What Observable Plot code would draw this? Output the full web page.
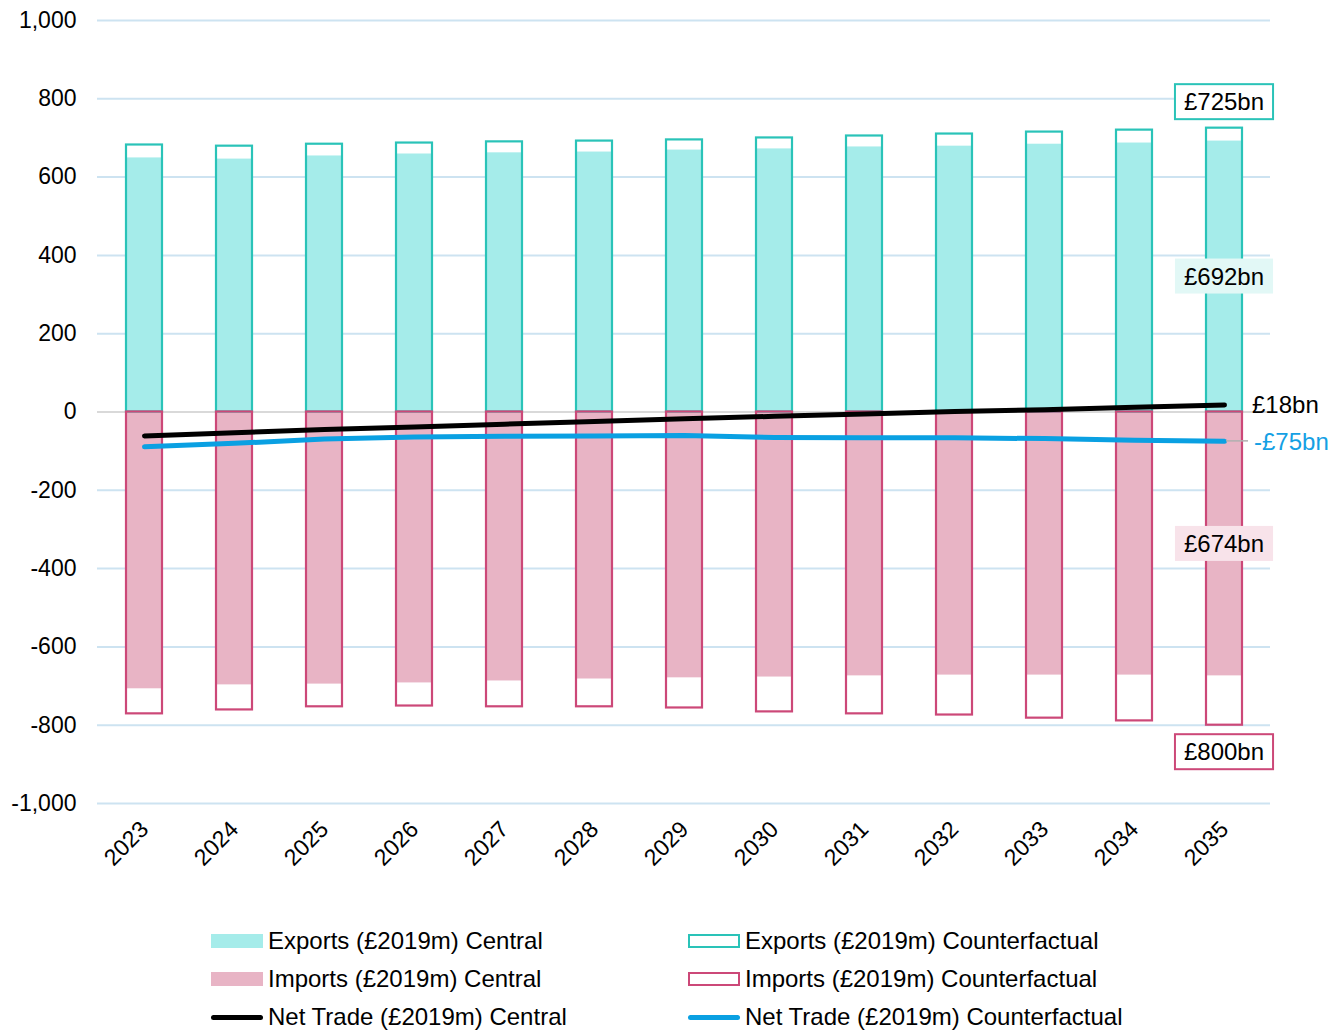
<!DOCTYPE html>
<html>
<head>
<meta charset="utf-8">
<script src="https://cdn.jsdelivr.net/npm/d3@7"></script>
<script src="https://cdn.jsdelivr.net/npm/@observablehq/plot@0.6"></script>
<style>
  body { margin: 0; background: #fff; font-family: "Liberation Sans", Arial, sans-serif; }
  #chart svg { display: block; }
  .legend { position: relative; height: 132px; font-size: 24px; color: #000; }
  .item { position: absolute; display: flex; align-items: center; white-space: nowrap; }
  .sw { width: 52px; height: 14px; box-sizing: border-box; margin-right: 5px; }
  .ln { width: 52px; height: 5px; border-radius: 3px; margin-right: 5px; }
</style>
</head>
<body>
<div id="chart"></div>
<div class="legend" id="legend"></div>
<script>
const years = [2023, 2024, 2025, 2026, 2027, 2028, 2029, 2030, 2031, 2032, 2033, 2034, 2035];
const exportsCentral = [649, 646, 654, 659, 662, 664, 669, 672, 677, 679, 684, 687, 692];
const exportsCounterfactual = [682, 679, 684, 687, 690, 692, 695, 700, 705, 710, 715, 720, 725];
const importsCentral = [-707, -697, -695, -692, -687, -682, -679, -677, -674, -672, -672, -672, -674];
const importsCounterfactual = [-771, -761, -753, -751, -753, -753, -756, -766, -771, -774, -782, -789, -800];
const netCentral = [-61, -53, -45, -38, -31, -24, -17, -11, -5, 1, 6, 12, 18];
const netCounterfactual = [-89, -80, -69, -64, -62, -61, -60, -65, -66, -66, -68, -72, -75];
const yTicks = [-1000, -800, -600, -400, -200, 0, 200, 400, 600, 800, 1000];
const seriesNames = [
  "Exports (£2019m) Central", "Exports (£2019m) Counterfactual",
  "Imports (£2019m) Central", "Imports (£2019m) Counterfactual",
  "Net Trade (£2019m) Central", "Net Trade (£2019m) Counterfactual"
];
const endLabels = [
  {text: "£725bn", value: 725, kind: "boxTop"},
  {text: "£692bn", value: 692 / 2, kind: "fillCyan"},
  {text: "£674bn", value: -674 / 2, kind: "fillPink"},
  {text: "£800bn", value: -800, kind: "boxBottom"}
];
const lineLabels = [
  {text: "£18bn", value: 18, color: "#000000", leader: false},
  {text: "-£75bn", value: -75, color: "#14a0e4", leader: true}
];

const C = {
  expFill: "#a5ecea", expStroke: "#2ac3b8",
  impFill: "#e8b4c5", impStroke: "#cc4878",
  net: "#000000", netCf: "#0aa0e2",
  grid: "#cde3f1", zero: "#d9d9d9"
};

const rows = years.map((y, i) => ({
  year: y,
  expC: exportsCentral[i], expCf: exportsCounterfactual[i],
  impC: importsCentral[i], impCf: importsCounterfactual[i],
  net: netCentral[i], netCf: netCounterfactual[i]
}));
const lastYear = years[years.length - 1];
const fmt = d => d3.format(",")(d).replace("\u2212", "-");

const ctx = document.createElement("canvas").getContext("2d");
ctx.font = "24px 'Liberation Sans'";

function labelsMark(index, scales) {
  const g = d3.create("svg:g").attr("font-family", "'Liberation Sans', Arial, sans-serif");
  const cx = scales.x(lastYear) + scales.x.bandwidth() / 2;
  for (const d of endLabels) {
    const w = ctx.measureText(d.text).width + 18, h = 35;
    let cy = scales.y(d.value);
    if (d.kind === "boxTop") cy -= 26;
    if (d.kind === "boxBottom") cy += 27;
    const fill = d.kind === "fillCyan" ? "#e2f8f6" : d.kind === "fillPink" ? "#f8e3ea" : "#ffffff";
    const stroke = d.kind === "boxTop" ? C.expStroke : d.kind === "boxBottom" ? C.impStroke : "none";
    g.append("rect").attr("x", cx - w / 2).attr("y", cy - h / 2).attr("width", w).attr("height", h)
      .attr("fill", fill).attr("stroke", stroke).attr("stroke-width", 2);
    g.append("text").attr("x", cx).attr("y", cy).attr("text-anchor", "middle").attr("dy", "0.36em")
      .attr("font-size", 24).attr("fill", "#000").text(d.text);
  }
  for (const d of lineLabels) {
    const y = scales.y(d.value);
    if (d.leader) {
      g.append("line").attr("x1", cx + 2).attr("x2", cx + 24).attr("y1", y).attr("y2", y)
        .attr("stroke", "#b0b0b0").attr("stroke-width", 1.5);
    }
    g.append("text").attr("x", cx + (d.leader ? 30 : 28)).attr("y", y).attr("dy", "0.36em")
      .attr("text-anchor", "start")
      .attr("font-size", 24).attr("fill", d.color).text(d.text);
  }
  return g.node();
}

const inset = 27;
const chart = Plot.plot({
  width: 1343,
  height: 900,
  marginTop: 20,
  marginBottom: 97,
  marginLeft: 97,
  marginRight: 73,
  style: {fontFamily: "'Liberation Sans', Arial, sans-serif", fontSize: "23px", color: "#000", background: "#fff"},
  x: {type: "band", domain: years, padding: 0, label: null, tickSize: 0, tickRotate: -45, tickPadding: 22, tickFormat: d => String(d)},
  y: {domain: [-1000, 1000], ticks: yTicks, label: null, tickSize: 0, tickPadding: 21, tickFormat: fmt},
  marks: [
    Plot.ruleY(yTicks.filter(d => d !== 0), {stroke: C.grid, strokeWidth: 2}),
    Plot.barY(rows, {x: "year", y1: 0, y2: "expC", fill: C.expFill, insetLeft: inset, insetRight: inset}),
    Plot.barY(rows, {x: "year", y1: 0, y2: "impC", fill: C.impFill, insetLeft: inset, insetRight: inset}),
    Plot.ruleY([0], {stroke: C.zero, strokeWidth: 2}),
    Plot.barY(rows, {x: "year", y1: 0, y2: "expCf", fill: "none", stroke: C.expStroke, strokeWidth: 2.2, insetLeft: inset, insetRight: inset}),
    Plot.barY(rows, {x: "year", y1: 0, y2: "impCf", fill: "none", stroke: C.impStroke, strokeWidth: 2.2, insetLeft: inset, insetRight: inset}),
    Plot.line(rows, {x: "year", y: "net", stroke: C.net, strokeWidth: 5, strokeLinecap: "round"}),
    Plot.line(rows, {x: "year", y: "netCf", stroke: C.netCf, strokeWidth: 5, strokeLinecap: "round"}),
    labelsMark
  ]
});
document.getElementById("chart").appendChild(chart);

// Legend
const legendItems = [
  {name: seriesNames[0], type: "fill", fill: C.expFill, stroke: "none", left: 211, top: 41},
  {name: seriesNames[1], type: "box", fill: "#fff", stroke: C.expStroke, left: 688, top: 41},
  {name: seriesNames[2], type: "fill", fill: C.impFill, stroke: "none", left: 211, top: 79},
  {name: seriesNames[3], type: "box", fill: "#fff", stroke: C.impStroke, left: 688, top: 79},
  {name: seriesNames[4], type: "line", fill: C.net, left: 211, top: 117},
  {name: seriesNames[5], type: "line", fill: C.netCf, left: 688, top: 117}
];
const leg = document.getElementById("legend");
for (const it of legendItems) {
  const div = document.createElement("div");
  div.className = "item";
  div.style.left = it.left + "px";
  div.style.top = (it.top - 14) + "px";
  const sw = document.createElement("div");
  if (it.type === "line") {
    sw.className = "ln";
    sw.style.background = it.fill;
  } else {
    sw.className = "sw";
    sw.style.background = it.fill;
    if (it.stroke !== "none") sw.style.border = "2px solid " + it.stroke;
  }
  const tx = document.createElement("span");
  tx.textContent = it.name;
  div.appendChild(sw);
  div.appendChild(tx);
  leg.appendChild(div);
}
</script>
</body>
</html>
